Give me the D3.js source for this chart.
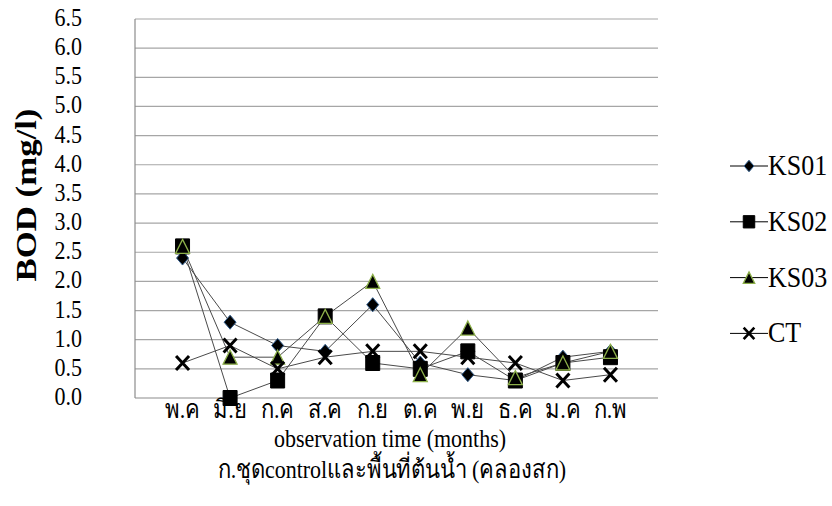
<!DOCTYPE html>
<html><head><meta charset="utf-8">
<script src="https://cdn.jsdelivr.net/npm/d3@7/dist/d3.min.js"></script>
<style>body{margin:0;background:#fff}svg{display:block}</style>
</head><body><svg id="c" width="832" height="506"></svg>
<script>
const categories = ["พ.ค","มิ.ย","ก.ค","ส.ค","ก.ย","ต.ค","พ.ย","ธ.ค","ม.ค","ก.พ"];
const ks01 = [2.4,1.3,0.9,0.8,1.6,0.6,0.4,0.3,0.7,0.8];
const ks02 = [2.6,0.0,0.3,1.4,0.6,0.5,0.8,0.3,0.6,0.7];
const ks03 = [2.6,0.7,0.7,1.4,2.0,0.4,1.2,0.35,0.6,0.8];
const ct   = [0.6,0.9,0.5,0.7,0.8,0.8,0.7,0.6,0.3,0.4];
const seriesNames = ["KS01","KS02","KS03","CT"];
const yTicks = [0,0.5,1,1.5,2,2.5,3,3.5,4,4.5,5,5.5,6,6.5];
const yTitle = "BOD  (mg/l)";
const xTitle = "observation time (months)";
const subTitle = "ก.ชุดcontrolและพื้นที่ต้นน้ำ (คลองสก)";

const FONT = "Liberation Serif, Times New Roman, serif";
const SY = 1.16;
const svg = d3.select("#c").attr("font-family", FONT);
const L = 135, R = 658, T = 19, B = 398;
const x = d3.scalePoint().domain(categories).range([L, R]).padding(1);
const y = d3.scaleLinear().domain([0, 6.5]).range([B, T]);

function txt(g) { return g.append("text").attr("font-family", FONT).attr("fill", "#000"); }

// gridlines
svg.append("g").selectAll("line").data(yTicks.filter(d => d > 0)).join("line")
  .attr("x1", L).attr("x2", R).attr("y1", d => y(d)).attr("y2", d => y(d))
  .attr("stroke", "#a6a6a6").attr("stroke-width", 1.2);

// axes lines
svg.append("line").attr("x1", L).attr("x2", L).attr("y1", T).attr("y2", B).attr("stroke", "#8c8c8c").attr("stroke-width", 1.2);
svg.append("line").attr("x1", L).attr("x2", R).attr("y1", B).attr("y2", B).attr("stroke", "#8c8c8c").attr("stroke-width", 1.2);

// y tick labels
svg.append("g").selectAll("text").data(yTicks).join("text")
  .attr("font-family", FONT)
  .attr("transform", d => `translate(82,${y(d) + 7}) scale(1,${SY})`)
  .attr("text-anchor", "end").attr("font-size", 22)
  .text(d => d3.format(".1f")(d));

// x tick labels
svg.append("g").selectAll("text").data(categories).join("text")
  .attr("font-family", FONT)
  .attr("transform", d => `translate(${x(d)},418) scale(1,${SY})`)
  .attr("text-anchor", "middle").attr("font-size", 22)
  .text(d => d);

// titles
txt(svg).attr("transform", `translate(390,447) scale(1,${SY})`)
  .attr("text-anchor", "middle").attr("font-size", 22).text(xTitle);
txt(svg).attr("transform", `translate(392,478) scale(1,${SY})`)
  .attr("text-anchor", "middle").attr("font-size", 22).text(subTitle);
txt(svg).attr("transform", `translate(36,195) scale(1,${SY}) rotate(-90)`)
  .attr("text-anchor", "middle").attr("font-size", 30).attr("font-weight", "bold").text(yTitle);

// marker shapes
function markerPath(type, s) {
  const p = d3.path();
  if (type === "diamond") { const w = 6*s, h = 7*s; p.moveTo(0,-h); p.lineTo(w,0); p.lineTo(0,h); p.lineTo(-w,0); p.closePath(); }
  else if (type === "square") { const w = 7*s, h = 7.5*s; p.rect(-w,-h,2*w,2*h); }
  else if (type === "triangle") { const w = 7*s, h = 7*s; p.moveTo(0,-h); p.lineTo(w,h); p.lineTo(-w,h); p.closePath(); }
  else { const w = 6.5*s, h = 7*s; p.moveTo(-w,-h); p.lineTo(w,h); p.moveTo(w,-h); p.lineTo(-w,h); }
  return p.toString();
}
const styles = {
  diamond: {fill: "#000", stroke: "#2e5a8a", sw: 1},
  square: {fill: "#000", stroke: "#000", sw: 1},
  triangle: {fill: "#000", stroke: "#8db04a", sw: 1.3},
  cross: {fill: "none", stroke: "#000", sw: 3}
};
const series = [
  {name: seriesNames[0], values: ks01, m: "diamond"},
  {name: seriesNames[1], values: ks02, m: "square"},
  {name: seriesNames[2], values: ks03, m: "triangle"},
  {name: seriesNames[3], values: ct, m: "cross"}
];
const line = d3.line().x((d, i) => x(categories[i])).y(d => y(d));

series.forEach(s => {
  svg.append("path").attr("d", line(s.values)).attr("fill", "none")
    .attr("stroke", "#4a4a4a").attr("stroke-width", 1);
});
series.forEach(s => {
  const st = styles[s.m];
  svg.append("g").selectAll("path").data(s.values).join("path")
    .attr("transform", (d, i) => `translate(${x(categories[i])},${y(d)})`)
    .attr("d", markerPath(s.m, 1))
    .attr("fill", st.fill).attr("stroke", st.stroke).attr("stroke-width", st.sw);
});

// legend
const lg = svg.append("g");
series.forEach((s, i) => {
  const cy = 166 + i * 55.8;
  const st = styles[s.m];
  lg.append("line").attr("x1", 730).attr("x2", 768).attr("y1", cy).attr("y2", cy)
    .attr("stroke", "#000").attr("stroke-width", 1);
  lg.append("path").attr("transform", `translate(749,${cy})`).attr("d", markerPath(s.m, 0.82))
    .attr("fill", st.fill).attr("stroke", st.stroke).attr("stroke-width", s.m === "cross" ? 2.6 : st.sw);
  txt(lg).attr("transform", `translate(768,${cy + 9}) scale(1,${SY})`)
    .attr("font-size", 26).text(s.name);
});
</script></body></html>
